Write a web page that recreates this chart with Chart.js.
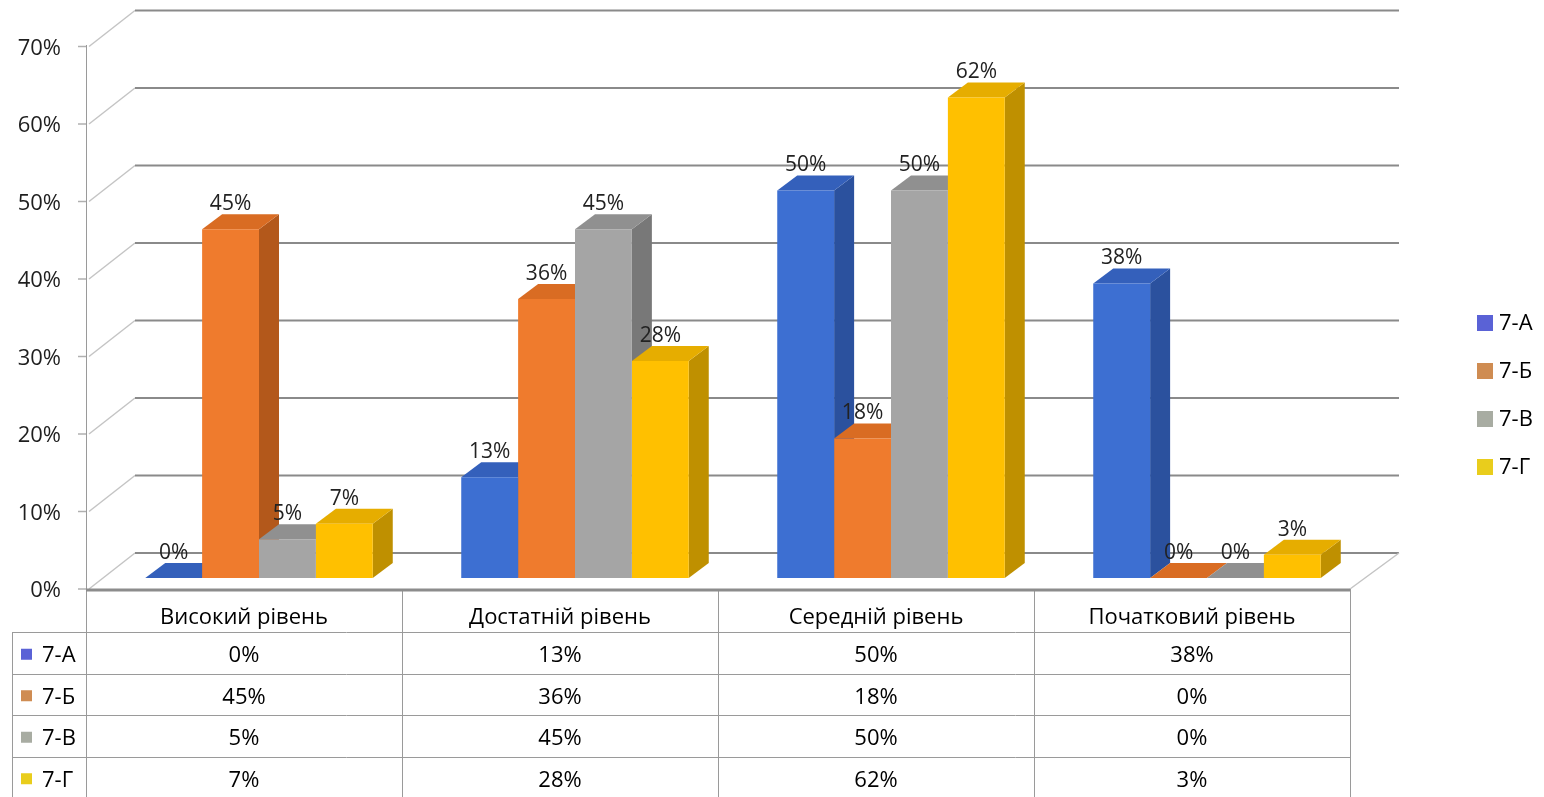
<!DOCTYPE html>
<html>
<head>
<meta charset="utf-8">
<script src="https://cdn.jsdelivr.net/npm/chart.js@4.4.1/dist/chart.umd.min.js"></script>
<style>
  html, body { margin: 0; background: #fff; }
  #wrap { width: 1544px; height: 797px; }
</style>
</head>
<body>
<div id="wrap"><canvas id="myChart" width="1544" height="797"></canvas></div>
<script>
const categories = ["Високий рівень", "Достатній рівень", "Середній рівень", "Початковий рівень"];
const classes = ["7-А", "7-Б", "7-В", "7-Г"];
const values7A = [0, 13, 50, 38];
const values7B = [45, 36, 18, 0];
const values7V = [5, 45, 50, 0];
const values7G = [7, 28, 62, 3];
const yTicks = [0, 10, 20, 30, 40, 50, 60, 70];

// colours: front face, top face, side face, legend key
const fronts = ['#3d6fd2', '#ef7b2d', '#a5a5a5', '#ffc000'];
const tops = ['#3460bb', '#d96c23', '#909090', '#e6ad00'];
const sides = ['#2b519e', '#b3581b', '#787878', '#bf9000'];
const keys = ['#5a62d6', '#cf8c52', '#a8aca2', '#e9cd1c'];

const FONT = "'Open Sans', 'Noto Sans', sans-serif";
const FRONT = { dx: -15, dy: 11 };   // front plane relative to bar plane
const BACK = { dx: 34, dy: -25 };    // back wall relative to bar plane
const DEPTH = { dx: 20, dy: -15 };   // bar depth

function line(ctx, x1, y1, x2, y2) {
    ctx.beginPath();
    ctx.moveTo(x1, y1);
    ctx.lineTo(x2, y2);
    ctx.stroke();
}

function poly(ctx, pts, color) {
    ctx.beginPath();
    ctx.moveTo(pts[0][0], pts[0][1]);
    for (let i = 1; i < pts.length; i++) ctx.lineTo(pts[i][0], pts[i][1]);
    ctx.closePath();
    ctx.fillStyle = color;
    ctx.fill();
}

const frame3d = {
    id: 'frame3d',
    beforeDatasetsDraw(chart) {
        const { ctx, scales: { x, y }, chartArea: a } = chart;
        ctx.save();

        // walls, gridlines and y labels
        y.ticks.forEach(t => {
            const py = y.getPixelForValue(t.value);
            ctx.strokeStyle = '#c4c4c4';
            ctx.lineWidth = 1.5;
            line(ctx, a.left + FRONT.dx + 3, py + FRONT.dy, a.left + BACK.dx, py + BACK.dy);
            ctx.strokeStyle = '#b0b0b0';
            line(ctx, a.left + FRONT.dx - 8, py + FRONT.dy, a.left + FRONT.dx, py + FRONT.dy);
            ctx.strokeStyle = '#8a8a8a';
            ctx.lineWidth = 2;
            line(ctx, a.left + BACK.dx, py + BACK.dy, a.right + BACK.dx, py + BACK.dy);

            ctx.fillStyle = '#1e1e1e';
            ctx.font = "22px " + FONT;
            ctx.textAlign = 'right';
            ctx.textBaseline = 'middle';
            ctx.fillText(t.value + '%', a.left + FRONT.dx - 25, py + FRONT.dy + 2);
        });
        const y0 = y.getPixelForValue(0);
        ctx.strokeStyle = '#c4c4c4';
        ctx.lineWidth = 1.5;
        line(ctx, a.right + FRONT.dx, y0 + FRONT.dy, a.right + BACK.dx, y0 + BACK.dy);

        // bar sides then tops
        const metas = chart.data.datasets.map((d, i) => chart.getDatasetMeta(i));
        metas.forEach((meta, i) => {
            meta.data.forEach(bar => {
                const p = bar.getProps(['x', 'y', 'base', 'width'], true);
                const r = p.x + p.width / 2;
                poly(ctx, [[r, p.y], [r + DEPTH.dx, p.y + DEPTH.dy],
                    [r + DEPTH.dx, p.base + DEPTH.dy], [r, p.base]], sides[i]);
            });
        });
        metas.forEach((meta, i) => {
            meta.data.forEach(bar => {
                const p = bar.getProps(['x', 'y', 'base', 'width'], true);
                const l = p.x - p.width / 2, r = p.x + p.width / 2;
                poly(ctx, [[l, p.y], [l + DEPTH.dx, p.y + DEPTH.dy],
                    [r + DEPTH.dx, p.y + DEPTH.dy], [r, p.y]], tops[i]);
            });
        });
        ctx.restore();
    },
    afterDatasetsDraw(chart) {
        const { ctx, scales: { x, y }, chartArea: a } = chart;
        ctx.save();

        // value labels
        ctx.font = "21px " + FONT;
        ctx.textAlign = 'center';
        ctx.textBaseline = 'middle';
        ctx.fillStyle = '#222';
        chart.data.datasets.forEach((ds, i) => {
            chart.getDatasetMeta(i).data.forEach((bar, j) => {
                const p = bar.getProps(['x', 'y'], true);
                ctx.fillText(ds.data[j] + '%', p.x, p.y - 25);
            });
        });

        // data table
        const step = x.getPixelForValue(1) - x.getPixelForValue(0);
        const left = a.left + FRONT.dx;
        const right = a.right + FRONT.dx;
        const top = y.getPixelForValue(0) + FRONT.dy;
        const headH = 43, rowH = 41.5;
        const bottom = chart.height;
        ctx.strokeStyle = '#9a9a9a';
        ctx.lineWidth = 1;
        for (let c = 0; c <= categories.length; c++) {
            const cx = Math.round(left + c * step) + 0.5;
            line(ctx, cx, top, cx, bottom);
        }
        line(ctx, left + 0.5, top - 544, left + 0.5, top);
        line(ctx, 12.5, top + headH, 12.5, bottom);
        for (let r = 0; r < classes.length; r++) {
            const ry = Math.round(top + headH + r * rowH) + 0.5;
            line(ctx, 12, ry, right, ry);
        }
        ctx.strokeStyle = '#8c8c8c';
        ctx.lineWidth = 3;
        line(ctx, left, top + 1, right, top + 1);

        ctx.fillStyle = '#000';
        ctx.font = "22px " + FONT;
        ctx.textAlign = 'center';
        categories.forEach((c, j) => {
            ctx.fillText(c, x.getPixelForValue(j) + FRONT.dx, top + 29);
        });
        chart.data.datasets.forEach((ds, i) => {
            const ry = top + headH + i * rowH + rowH / 2 + 3;
            ds.data.forEach((v, j) => {
                ctx.fillText(v + '%', x.getPixelForValue(j) + FRONT.dx, ry);
            });
            ctx.fillStyle = keys[i];
            ctx.fillRect(21, ry - 7, 11, 11);
            ctx.fillStyle = '#000';
            ctx.textAlign = 'left';
            ctx.fillText(ds.label, 42, ry);
            ctx.textAlign = 'center';
        });

        // legend
        chart.data.datasets.forEach((ds, i) => {
            const ly = 323 + i * 48;
            ctx.fillStyle = keys[i];
            ctx.fillRect(1477, ly - 8, 16, 16);
            ctx.fillStyle = '#000';
            ctx.textAlign = 'left';
            ctx.fillText(ds.label, 1499, ly + 1);
        });
        ctx.restore();
    }
};

new Chart(document.getElementById('myChart'), {
    type: 'bar',
    data: {
        labels: categories,
        datasets: [
            { label: classes[0], data: values7A, backgroundColor: fronts[0] },
            { label: classes[1], data: values7B, backgroundColor: fronts[1] },
            { label: classes[2], data: values7V, backgroundColor: fronts[2] },
            { label: classes[3], data: values7G, backgroundColor: fronts[3] }
        ]
    },
    options: {
        responsive: false,
        animation: false,
        layout: { padding: { left: 101, right: 179, top: 35.5, bottom: 219 } },
        datasets: { bar: { categoryPercentage: 0.72, barPercentage: 1.0, borderWidth: 0 } },
        plugins: { legend: { display: false }, tooltip: { enabled: false } },
        scales: {
            x: { display: false },
            y: {
                display: false, min: 0, max: 70,
                afterBuildTicks: s => { s.ticks = yTicks.map(v => ({ value: v })); }
            }
        }
    },
    plugins: [frame3d]
});
</script>
</body>
</html>
